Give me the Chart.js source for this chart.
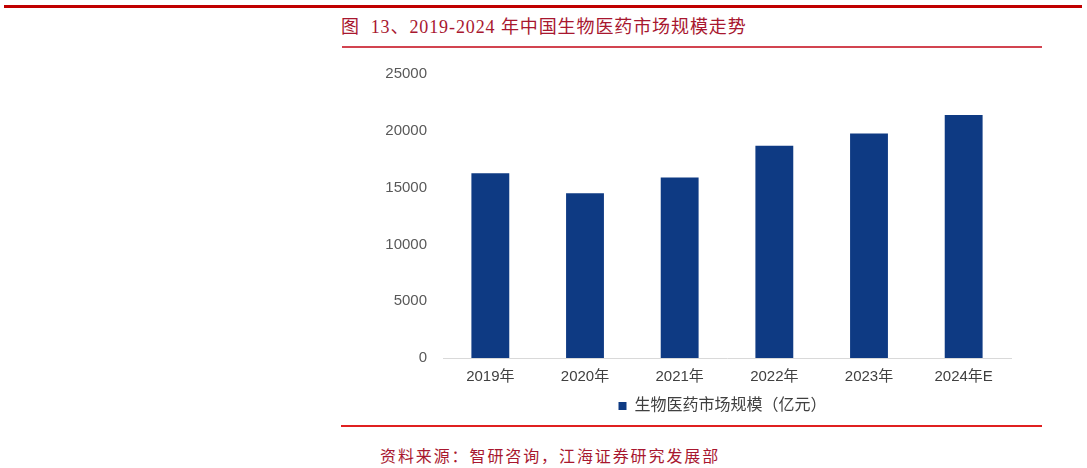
<!DOCTYPE html>
<html>
<head>
<meta charset="utf-8">
<script src="https://cdn.jsdelivr.net/npm/chart.js@4"></script>
<style>
  body { margin: 0; background: #fff; width: 1087px; height: 468px; position: relative; overflow: hidden; }
  .rule { position: absolute; }
  .txt { position: absolute; white-space: nowrap; color: #A8172F; font-family: "Liberation Serif", "Noto Sans CJK SC", serif; }
  #chartBox { position: absolute; left: 380px; top: 57px; }
</style>
</head>
<body>
<div class="rule" style="left:4px;top:5px;width:1078px;height:3px;background:#C00000"></div>
<div class="txt" id="title" style="left:341px;top:12px;font-size:18px;letter-spacing:0.9px">图&nbsp; 13、2019-2024 年中国生物医药市场规模走势</div>
<div class="rule" style="left:342px;top:46px;width:700px;height:2px;background:#D24450"></div>
<div id="chartBox"><canvas id="myChart" width="680" height="367"></canvas></div>
<div class="rule" style="left:341px;top:425px;width:701px;height:1.5px;background:#E02020"></div>
<div class="txt" id="source" style="left:380px;top:443px;font-size:16px;letter-spacing:1.9px">资料来源：智研咨询，江海证券研究发展部</div>

<script>
// data
const years = ['2019年', '2020年', '2021年', '2022年', '2023年', '2024年E'];
const marketSize = [16260, 14500, 15880, 18680, 19760, 21380];
const seriesName = '生物医药市场规模（亿元）';
const yTicks = [0, 5000, 10000, 15000, 20000, 25000];

const sansFont = '"Liberation Sans", "Noto Sans CJK SC", Arial, sans-serif';

// nudge the legend a bit right, the original sits off centre
const legendShift = {
    id: 'legendShift',
    afterLayout: function(chart) {
        chart.legend.left += 27;
        chart.legend.right += 27;
    }
};

const ctx = document.getElementById('myChart').getContext('2d');
const myChart = new Chart(ctx, {
    type: 'bar',
    data: {
        labels: years,
        datasets: [{
            label: seriesName,
            data: marketSize,
            backgroundColor: '#0E3A83',
            barPercentage: 0.4,
            categoryPercentage: 1
        }]
    },
    options: {
        responsive: false,
        devicePixelRatio: 1,
        animation: false,
        layout: { padding: { top: 1, right: 49, left: 0, bottom: 0 } },
        plugins: {
            tooltip: { enabled: false },
            legend: {
                position: 'bottom',
                labels: {
                    boxWidth: 8,
                    boxHeight: 8,
                    color: '#404040',
                    font: { family: sansFont, size: 16 },
                    padding: 7
                }
            }
        },
        scales: {
            x: {
                grid: { display: false },
                border: { display: true, color: '#D9D9D9', width: 1 },
                ticks: { color: '#404040', font: { family: sansFont, size: 15 }, padding: 2 },
                afterFit: function(s) { s.height = 33; }
            },
            y: {
                min: 0,
                max: 25000,
                afterBuildTicks: function(s) { s.ticks = yTicks.map(v => ({ value: v })); },
                grid: { display: false },
                border: { display: false },
                ticks: {
                    color: '#595959',
                    font: { family: sansFont, size: 15 },
                    padding: 8,
                    callback: function(v) { return String(v); }
                },
                afterFit: function(s) { s.width = 63; }
            }
        }
    },
    plugins: [legendShift]
});
</script>
</body>
</html>
